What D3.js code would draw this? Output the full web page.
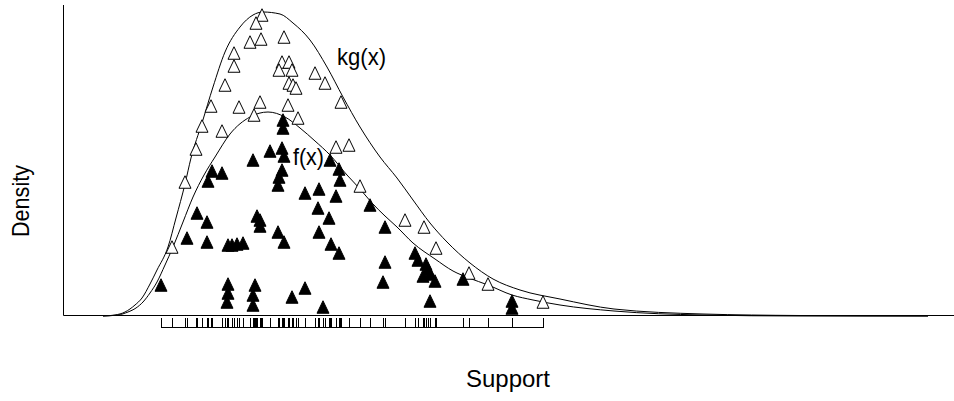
<!DOCTYPE html>
<html lang="en">
<head>
  <meta charset="UTF-8">
  <title>Rejection sampling: f(x) under kg(x)</title>
  <script src="https://d3js.org/d3.v7.min.js"></script>
  <style>
    body { margin: 0; background: #fff; }
    svg { display: block; font-family: "Liberation Sans", Arial, sans-serif; }
  </style>
</head>
<body>
  <div id="chart"></div>
  <script>
    // envelope curve kg(x) as [x, density]
    const kgCurve = [
      [0.40, 0], [0.52, 0.01], [0.62, 0.04], [0.72, 0.11], [0.79, 0.18], [0.87, 0.32],
      [0.94, 0.46], [1.05, 0.69], [1.13, 0.98], [1.22, 1.32], [1.28, 1.58], [1.39, 1.93],
      [1.50, 2.29], [1.62, 2.64], [1.77, 2.89], [1.90, 3.01], [2.00, 3.04], [2.17, 3.02],
      [2.30, 2.93], [2.47, 2.76], [2.64, 2.49], [2.80, 2.19], [2.97, 1.89], [3.17, 1.59],
      [3.34, 1.38], [3.50, 1.16], [3.67, 0.93], [3.84, 0.74], [4.07, 0.53], [4.30, 0.37],
      [4.57, 0.26], [4.97, 0.17], [5.51, 0.07], [6.40, 0.02], [7.37, 0.005], [8.65, 0]
    ];

    // target density f(x)
    const fCurve = [
      [0.40, 0], [0.55, 0.01], [0.65, 0.04], [0.73, 0.08], [0.80, 0.14], [0.87, 0.23],
      [0.94, 0.34], [1.02, 0.51], [1.10, 0.69], [1.20, 0.94], [1.30, 1.19], [1.41, 1.41],
      [1.52, 1.59], [1.67, 1.82], [1.87, 1.99], [2.05, 2.04], [2.22, 1.99], [2.37, 1.88],
      [2.52, 1.75], [2.67, 1.61], [2.84, 1.41], [2.97, 1.27], [3.09, 1.13], [3.22, 1.00],
      [3.34, 0.89], [3.50, 0.73], [3.72, 0.57], [3.90, 0.45], [4.06, 0.38], [4.25, 0.31],
      [4.49, 0.21], [4.70, 0.16], [4.97, 0.11], [5.51, 0.05], [6.40, 0.01], [7.37, 0], [8.65, 0]
    ];

    // rejected draws (open triangles)
    const rejected = [
      [1.99, 3.01], [1.93, 2.93], [1.87, 2.74], [1.98, 2.77], [1.71, 2.63], [1.71, 2.50],
      [1.62, 2.31], [1.48, 2.10], [1.76, 2.09], [1.97, 2.14], [1.91, 2.01], [1.39, 1.90],
      [1.59, 1.85], [1.33, 1.67], [1.22, 1.34], [1.09, 0.69], [2.21, 2.79], [2.19, 2.54],
      [2.26, 2.54], [2.16, 2.46], [2.29, 2.46], [2.26, 2.33], [2.30, 2.31], [2.33, 2.28],
      [2.52, 2.43], [2.62, 2.33], [2.78, 2.14], [2.25, 2.11], [2.35, 1.98], [2.73, 1.69],
      [2.86, 1.71], [2.97, 1.30], [3.42, 0.96], [3.61, 0.89], [3.73, 0.68], [4.06, 0.43],
      [4.25, 0.32], [4.80, 0.14]
    ];

    // accepted draws (filled triangles)
    const accepted = [
      [2.20, 1.96], [2.20, 1.88], [2.07, 1.65], [2.19, 1.68], [2.21, 1.60], [1.90, 1.56],
      [2.19, 1.46], [2.16, 1.39], [2.15, 1.31], [1.49, 1.45], [1.59, 1.43], [1.45, 1.35],
      [2.67, 1.56], [2.76, 1.47], [2.77, 1.36], [2.42, 1.23], [2.56, 1.27], [2.73, 1.20],
      [2.55, 1.08], [3.07, 1.11], [1.34, 1.03], [1.44, 0.94], [1.24, 0.78], [1.44, 0.74],
      [1.65, 0.71], [1.69, 0.71], [1.74, 0.72], [1.80, 0.73], [1.94, 1.00], [1.97, 0.96],
      [1.97, 0.90], [0.98, 0.31], [1.65, 0.32], [1.65, 0.23], [1.64, 0.14], [1.92, 0.31],
      [1.90, 0.21], [1.90, 0.11], [2.15, 0.84], [2.21, 0.74], [2.66, 0.98], [2.56, 0.84],
      [2.68, 0.72], [2.76, 0.63], [3.22, 0.89], [3.22, 0.54], [3.20, 0.34], [2.29, 0.19],
      [2.42, 0.28], [2.60, 0.09], [3.52, 0.63], [3.55, 0.56], [3.63, 0.52], [3.65, 0.47],
      [3.60, 0.40], [3.67, 0.42], [3.72, 0.35], [3.67, 0.15], [4.00, 0.37], [4.49, 0.15],
      [4.49, 0.08]
    ];

    // curve labels: [text, x, y]
    const curveLabels = [["kg(x)", 2.74, 2.515], ["f(x)", 2.30, 1.51]];

    const width = 954, height = 401;
    const margin = { top: 5, right: 0, bottom: 85, left: 63 };

    const x = d3.scaleLinear().domain([0, 8.91]).range([margin.left, width - margin.right]);
    const y = d3.scaleLinear().domain([0, 3.11]).range([height - margin.bottom, margin.top]);

    const svg = d3.select("#chart").append("svg")
      .attr("width", width)
      .attr("height", height);

    // L-shaped box
    svg.append("path")
      .attr("fill", "none")
      .attr("stroke", "#000")
      .attr("d", `M${x(0) + 0.5},${y(3.11)}V${y(0) - 0.5}H${width}`);

    // density curves
    const line = d3.line()
      .x(d => x(d[0]))
      .y(d => y(d[1]))
      .curve(d3.curveMonotoneX);

    svg.append("g")
      .attr("fill", "none")
      .attr("stroke", "#000")
      .attr("stroke-width", 1)
      .selectAll("path")
      .data([kgCurve, fCurve])
      .join("path")
      .attr("d", line);

    // triangle marker, centred on its bounding box
    const tw = 12, th = 12.5;
    const tri = `M0,${-th / 2}L${tw / 2},${th / 2}L${-tw / 2},${th / 2}Z`;

    svg.append("g")
      .selectAll("path")
      .data(rejected)
      .join("path")
      .attr("transform", d => `translate(${x(d[0])},${y(d[1])})`)
      .attr("d", tri)
      .attr("fill", "#fff")
      .attr("stroke", "#000");

    svg.append("g")
      .selectAll("path")
      .data(accepted)
      .join("path")
      .attr("transform", d => `translate(${x(d[0])},${y(d[1])})`)
      .attr("d", tri)
      .attr("fill", "#000")
      .attr("stroke", "#000");

    // rug of all draws, with a baseline joining the ticks
    const allX = rejected.concat(accepted).map(d => d[0]);
    const rugTop = y(0) + 2, rugBottom = y(0) + 12;
    const rug = svg.append("g").attr("stroke", "#000");
    rug.selectAll("line")
      .data(allX)
      .join("line")
      .attr("x1", d => Math.round(x(d)) + 0.5)
      .attr("x2", d => Math.round(x(d)) + 0.5)
      .attr("y1", rugTop)
      .attr("y2", rugBottom);
    rug.append("line")
      .attr("x1", x(d3.min(allX)))
      .attr("x2", x(d3.max(allX)) + 1)
      .attr("y1", rugBottom - 0.5)
      .attr("y2", rugBottom - 0.5);

    // curve labels (tall, slightly narrow lettering as in the original)
    svg.append("g")
      .selectAll("text")
      .data(curveLabels)
      .join("text")
      .attr("x", d => x(d[1]))
      .attr("y", d => y(d[2]))
      .attr("font-size", 24)
      .attr("textLength", d => d[0] === "kg(x)" ? 49 : 31)
      .attr("lengthAdjust", "spacingAndGlyphs")
      .text(d => d[0]);

    // axis titles
    svg.append("text")
      .attr("x", 466)
      .attr("y", 387)
      .attr("font-size", 24)
      .attr("textLength", 84)
      .attr("lengthAdjust", "spacingAndGlyphs")
      .text("Support");

    svg.append("text")
      .attr("transform", `translate(29,237) rotate(-90)`)
      .attr("font-size", 24)
      .attr("textLength", 72)
      .attr("lengthAdjust", "spacingAndGlyphs")
      .text("Density");
  </script>
</body>
</html>
